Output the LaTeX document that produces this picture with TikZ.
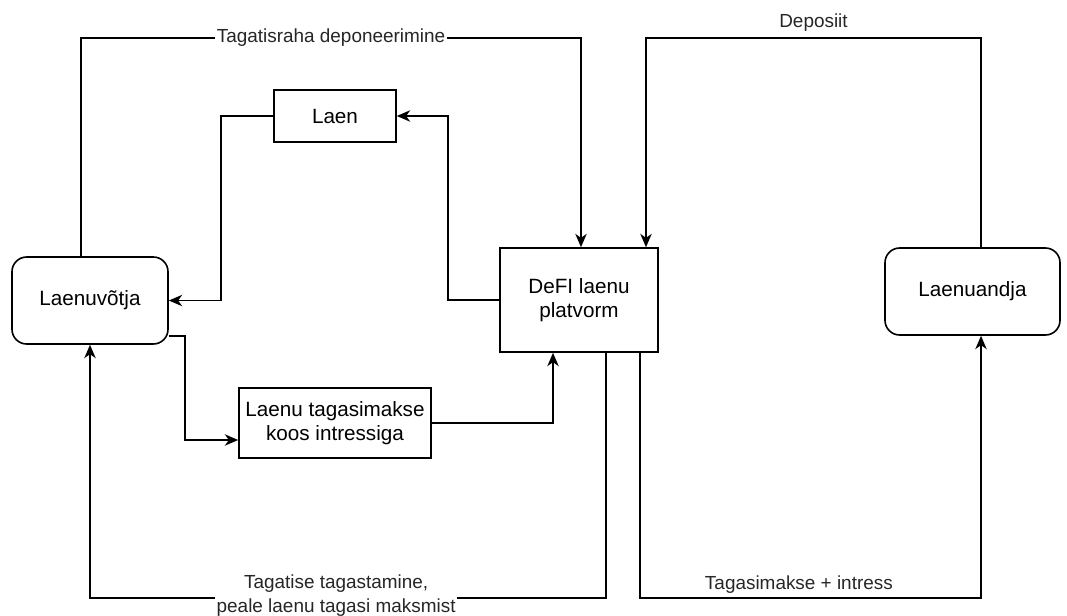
\documentclass[tikz,border=0pt]{standalone}
\usepackage{fontspec}
\setmainfont{Liberation Sans}
\usetikzlibrary{arrows.meta}
\begin{document}
\begin{tikzpicture}[x=0.75pt,y=-0.75pt,
  box/.style={draw, line width=1.2pt, fill=white, align=center,
    font=\fontsize{15.5}{18.5}\selectfont, inner sep=0pt},
  rbox/.style={box, rounded corners=11pt},
  conn/.style={line width=1.2pt, -{Stealth[length=10pt,width=8.5pt,inset=3pt]}},
  lbl/.style={font=\fontsize{14.2}{18}\selectfont, align=center, text=black!85},
  onlbl/.style={lbl, fill=white, inner sep=1pt},
]
\useasboundingbox (0,0) rectangle (1067,615);

% nodes
\node[rbox, minimum width=117pt, minimum height=65.25pt] (L) at (90,300.5) {Laenuvõtja};
\node[box, minimum width=91.5pt, minimum height=39pt] (N) at (335,116) {Laen};
\node[box, minimum width=118.5pt, minimum height=78pt] (D) at (579,300) {DeFI laenu\\platvorm};
\node[box, minimum width=144pt, minimum height=52.5pt] (T) at (335,423) {Laenu tagasimakse\\koos intressiga};
\node[rbox, minimum width=131.25pt, minimum height=65.25pt] (A) at (972.5,291.5) {Laenuandja};

% bend points
\coordinate (t1) at (81,38);
\coordinate (t2) at (581,38);
\coordinate (d1) at (981,38);
\coordinate (d2) at (646,38);
\coordinate (lx) at (448,116);
\coordinate (ly) at (221,300.5);
\coordinate (r1) at (185,336);
\coordinate (r2) at (185,440);
\coordinate (s1) at (553,423);
\coordinate (b1) at (606,598);
\coordinate (b2) at (90,598);
\coordinate (c1) at (640,598);
\coordinate (c2) at (981,598);

% connectors
\draw[conn] (L.north -| t1) -- (t1) -- node[onlbl]{Tagatisraha deponeerimine} (t2) -- (D.north -| t2);
\draw[conn] (A.north -| d1) -- (d1) -- node[lbl, above, inner sep=4pt]{Deposiit} (d2) -- (D.north -| d2);
\draw[conn] (D.west) -| (lx) -- (N.east);
\draw[conn] (N.west) -| (ly) -- (L.east);
\draw[conn] (L.east |- r1) -- (r1) -- (r2) -- (T.west |- r2);
\draw[conn] (T.east) -- (s1) -- (D.south -| s1);
\draw[conn] (D.south -| b1) -- (b1) -- node[onlbl, pos=0.523, yshift=2pt]{Tagatise tagastamine,\\peale laenu tagasi maksmist} (b2) -- (L.south -| b2);
\draw[conn] (D.south -| c1) -- (c1) -- node[lbl, pos=0.466, above, inner sep=3pt]{Tagasimakse + intress} (c2) -- (A.south -| c2);
\end{tikzpicture}
\end{document}
